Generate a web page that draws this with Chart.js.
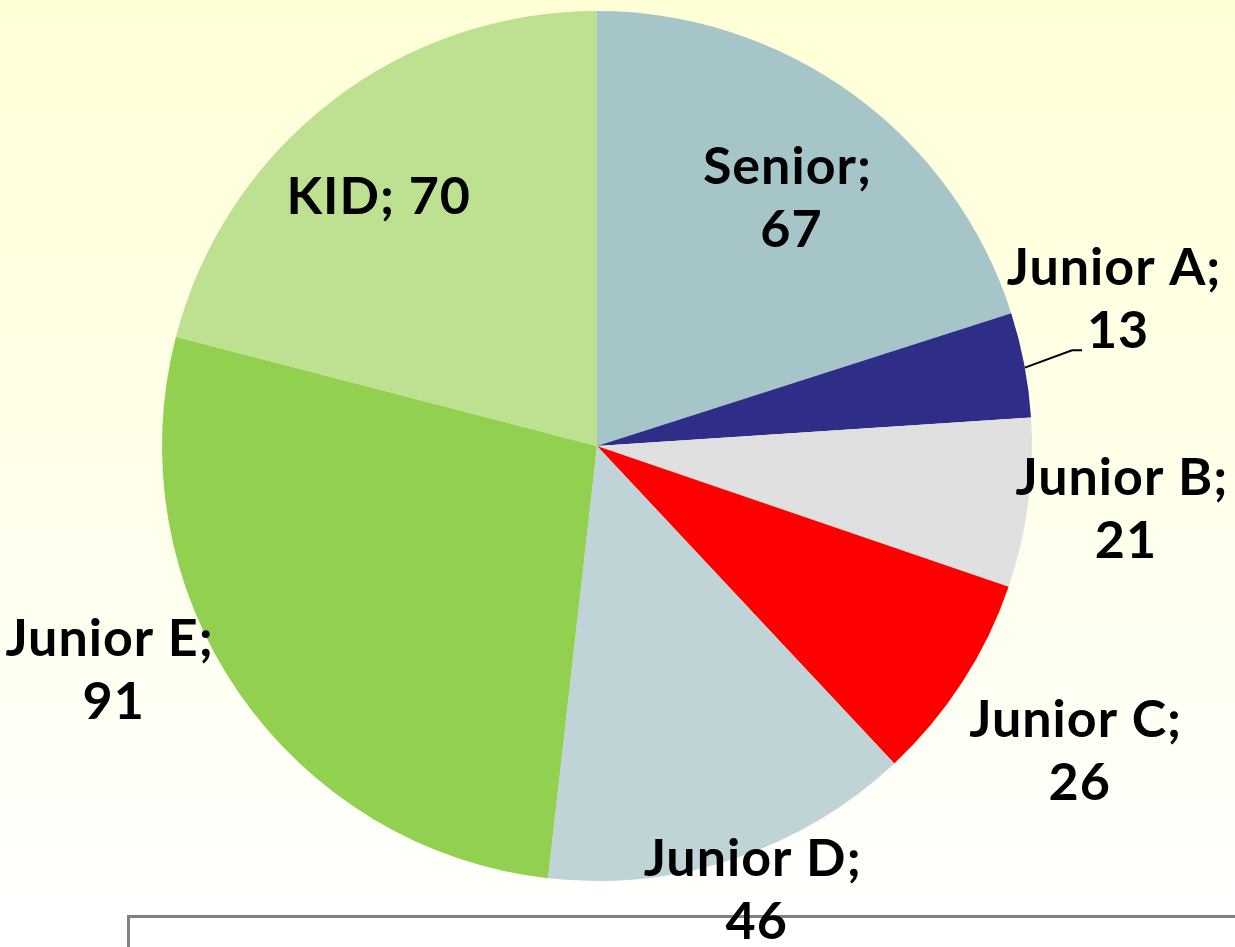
<!DOCTYPE html>
<html>
<head>
<meta charset="utf-8">
<script src="https://cdn.jsdelivr.net/npm/chart.js@4.4.0/dist/chart.umd.min.js"></script>
<style>
  html, body { margin: 0; padding: 0; }
  body {
    width: 1235px; height: 947px; overflow: hidden;
    background: linear-gradient(to bottom, #FFFFD6 0%, #FFFFEE 60%, #FFFFFF 100%);
  }
  #wrap { position: relative; width: 1235px; height: 947px; }
</style>
</head>
<body>
<div id="wrap"><canvas id="pieChart"></canvas></div>
<script>
// data
const categories = ["Senior", "Junior A", "Junior B", "Junior C", "Junior D", "Junior E", "KID"];
const players    = [67, 13, 21, 26, 46, 91, 70];
const sliceColors = ["#A5C5C8", "#2E2D87", "#E0E0E0", "#FF0000", "#C0D3D7", "#92D050", "#BDE191"];

// label placement: [radius factor, angle shift in deg, lines]
const labelPlace = [
  [0.72,  1.8, 2],
  [1.24, -5.0, 2],
  [1.22, -0.7, 2],
  [1.31, -0.4, 2],
  [1.085, -1.2, 2],
  [1.23,  9.6, 2],
  [0.76, -3.6, 1]
];

const FONT = "bold 52px 'Lato', 'DejaVu Sans', sans-serif";
const LINE_H = 63;

const labelPlugin = {
  id: "pieLabels",
  beforeDraw(chart) {
    const ctx = chart.ctx;
    // gray frame line at the bottom
    ctx.save();
    ctx.strokeStyle = "#808080";
    ctx.lineWidth = 3;
    ctx.beginPath();
    ctx.moveTo(128.5, 947);
    ctx.lineTo(128.5, 916.5);
    ctx.lineTo(1235, 916.5);
    ctx.stroke();
    ctx.restore();
  },
  afterDatasetsDraw(chart) {
    const ctx = chart.ctx;
    const arcs = chart.getDatasetMeta(0).data;
    ctx.save();
    ctx.font = FONT;
    ctx.letterSpacing = "1px";
    ctx.fillStyle = "#000";
    ctx.textAlign = "center";
    ctx.textBaseline = "middle";
    arcs.forEach((arc, i) => {
      const [rf, shift, nLines] = labelPlace[i];
      const mid = (arc.startAngle + arc.endAngle) / 2 + shift * Math.PI / 180;
      const r = arc.outerRadius * rf;
      const cx = arc.x + Math.cos(mid) * r;
      const cy = arc.y + Math.sin(mid) * r;
      if (nLines === 1) {
        ctx.fillText(categories[i] + "; " + players[i], cx, cy);
      } else {
        ctx.fillText(categories[i] + ";", cx - 2, cy - LINE_H / 2);
        ctx.fillText(String(players[i]), cx + 2, cy + LINE_H / 2);
      }
      // leader line for the small slice
      if (i === 1) {
        const edgeAng = (arc.startAngle + arc.endAngle) / 2 + 0.4 * Math.PI / 180;
        ctx.strokeStyle = "#000";
        ctx.lineWidth = 2;
        ctx.beginPath();
        ctx.moveTo(arc.x + Math.cos(edgeAng) * arc.outerRadius, arc.y + Math.sin(edgeAng) * arc.outerRadius);
        ctx.lineTo(cx - 44, cy + 51);
        ctx.lineTo(cx - 34, cy + 51);
        ctx.stroke();
      }
    });
    ctx.restore();
  }
};

new Chart(document.getElementById("pieChart"), {
  type: "pie",
  data: {
    labels: categories,
    datasets: [{
      data: players,
      backgroundColor: sliceColors,
      borderWidth: 0
    }]
  },
  options: {
    responsive: true,
    maintainAspectRatio: false,
    animation: false,
    layout: { padding: { left: 162, right: 203, top: 11, bottom: 66 } },
    plugins: {
      legend: { display: false },
      tooltip: { enabled: false }
    }
  },
  plugins: [labelPlugin]
});
</script>
</body>
</html>
